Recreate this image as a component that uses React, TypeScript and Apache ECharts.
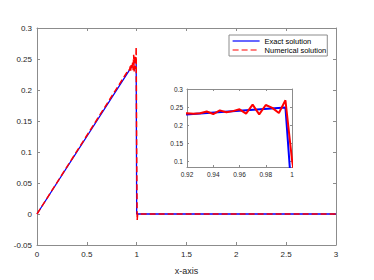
import React, { useEffect, useRef } from "react";
import * as echarts from "echarts";

const exactX = [0, 0.995, 1.0, 3.0];
const exactY = [0, 0.249, 0, 0];

const numX = [0, 0.92, 0.925, 0.93, 0.935, 0.94, 0.945, 0.95, 0.955, 0.96, 0.965, 0.97, 0.975, 0.98, 0.985, 0.99, 0.995, 1.0, 1.005, 1.01, 3.0];
const numY = [0, 0.233, 0.232, 0.233, 0.238, 0.231, 0.241, 0.236, 0.239, 0.244, 0.232, 0.257, 0.23, 0.256, 0.248, 0.234, 0.269, 0.105, -0.01, 0, 0];

const insetYTicks = [0.1, 0.15, 0.2, 0.25, 0.3];

const seriesNames = ["Exact solution", "Numerical solution"];

const FONT = "'Liberation Sans', Arial, Helvetica, sans-serif";
const AX = "#8c8c8c";
const TXT = "#262626";

export default function App() {
  const ref = useRef<HTMLDivElement>(null);
  useEffect(() => {
    if (!ref.current) return;
    const chart = echarts.init(ref.current, null, { renderer: "svg" });
    const exact = exactX.map((x, i) => [x, exactY[i]]);
    const num = numX.map((x, i) => [x, numY[i]]);
    const axLine = { show: true, onZero: false, lineStyle: { color: AX, width: 1 } };
    const tick = { show: true, inside: true, length: 3, lineStyle: { color: AX } };
    chart.setOption({
      animation: false,
      textStyle: { fontFamily: FONT },
      grid: [
        { left: 37, top: 28, width: 299, height: 223, containLabel: false },
        { left: 187, top: 89, width: 105, height: 78, containLabel: false, show: true, backgroundColor: "#fff", borderWidth: 0, z: 5 },
      ],
      legend: {
        data: seriesNames,
        orient: "vertical",
        left: 229,
        top: 35,
        itemWidth: 27,
        itemHeight: 9,
        itemGap: 1,
        padding: [2, 1, 2, 3],
        borderColor: AX,
        borderWidth: 1,
        backgroundColor: "#fff",
        itemStyle: { color: "transparent", borderColor: "transparent", borderWidth: 0 },
        lineStyle: { width: 1.2 },
        textStyle: { fontSize: 7.5, color: "#000", fontFamily: FONT },
        z: 10,
      },
      xAxis: [
        {
          type: "value", gridIndex: 0, min: 0, max: 3, interval: 0.5, position: "bottom",
          axisLine: axLine, axisTick: tick, splitLine: { show: false },
          axisLabel: { color: TXT, fontSize: 8, margin: 5, fontFamily: FONT },
          name: "x-axis", nameLocation: "middle", nameGap: 21,
          nameTextStyle: { color: TXT, fontSize: 9, fontFamily: FONT },
        },
        {
          type: "value", gridIndex: 0, min: 0, max: 3, interval: 0.5, position: "top",
          axisLine: axLine, axisTick: tick, splitLine: { show: false }, axisLabel: { show: false },
        },
        {
          type: "value", gridIndex: 1, min: 0.92, max: 1, interval: 0.02, position: "bottom",
          axisLine: axLine, axisTick: { ...tick, length: 2 }, splitLine: { show: false },
          axisLabel: { color: TXT, fontSize: 6.5, margin: 4, fontFamily: FONT },
          z: 6,
        },
        {
          type: "value", gridIndex: 1, min: 0.92, max: 1, interval: 0.02, position: "top",
          axisLine: axLine, axisTick: { ...tick, length: 2 }, splitLine: { show: false }, axisLabel: { show: false },
          z: 6,
        },
      ],
      yAxis: [
        {
          type: "value", gridIndex: 0, min: -0.05, max: 0.3, interval: 0.05, position: "left",
          axisLine: axLine, axisTick: tick, splitLine: { show: false },
          axisLabel: { color: TXT, fontSize: 8, margin: 5, fontFamily: FONT },
        },
        {
          type: "value", gridIndex: 0, min: -0.05, max: 0.3, interval: 0.05, position: "right",
          axisLine: axLine, axisTick: tick, splitLine: { show: false }, axisLabel: { show: false },
        },
        {
          type: "value", gridIndex: 1, min: 0.085, max: 0.3, position: "left",
          axisLine: axLine,
          axisTick: { ...tick, length: 2, customValues: insetYTicks },
          splitLine: { show: false },
          axisLabel: { color: TXT, fontSize: 6.5, margin: 4, fontFamily: FONT, customValues: insetYTicks },
          z: 6,
        },
        {
          type: "value", gridIndex: 1, min: 0.085, max: 0.3, position: "right",
          axisLine: axLine,
          axisTick: { ...tick, length: 2, customValues: insetYTicks },
          splitLine: { show: false }, axisLabel: { show: false },
          z: 6,
        },
      ],
      series: [
        {
          name: seriesNames[0], type: "line", xAxisIndex: 0, yAxisIndex: 0, data: exact,
          symbol: "none", lineStyle: { color: "#0000ff", width: 1.3 }, itemStyle: { color: "#0000ff" }, z: 2,
        },
        {
          name: seriesNames[1], type: "line", xAxisIndex: 0, yAxisIndex: 0, data: num,
          symbol: "none", lineStyle: { color: "#ff0000", width: 1.5, type: [6, 3] }, itemStyle: { color: "#ff0000" }, z: 3,
        },
        {
          name: seriesNames[0], type: "line", xAxisIndex: 2, yAxisIndex: 2, data: exact, clip: true,
          symbol: "none", lineStyle: { color: "#0000ff", width: 2 }, itemStyle: { color: "#0000ff" }, z: 7,
        },
        {
          name: seriesNames[1], type: "line", xAxisIndex: 2, yAxisIndex: 2, data: num, clip: true,
          symbol: "none", lineStyle: { color: "#ff0000", width: 2 }, itemStyle: { color: "#ff0000" }, z: 8,
        },
      ],
    });
    return () => chart.dispose();
  }, []);
  return <div ref={ref} style={{ width: 374, height: 280, position: "absolute", left: 0, top: 0, background: "#fff" }} />;
}
